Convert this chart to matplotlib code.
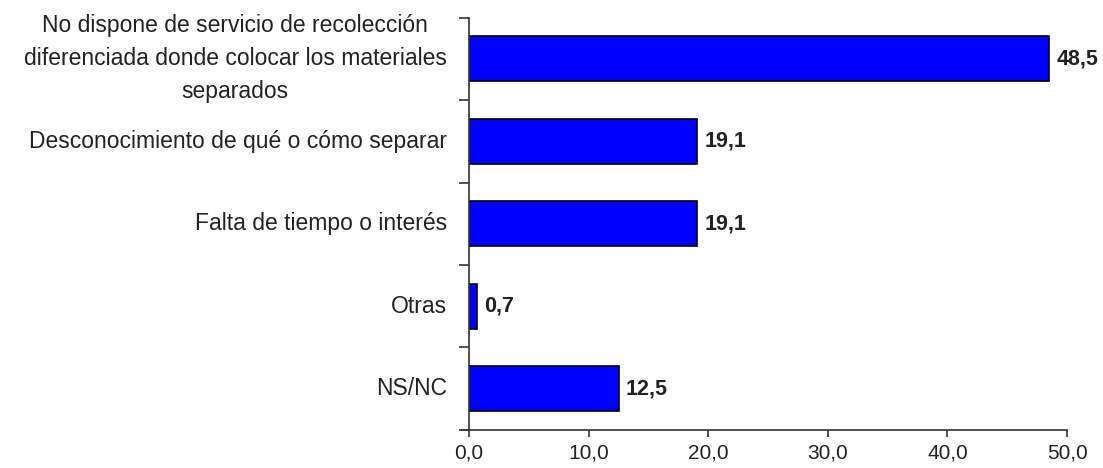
import matplotlib
matplotlib.use("Agg")
import matplotlib.pyplot as plt
import numpy as np

plt.rcParams['font.family'] = ['Liberation Sans', 'DejaVu Sans']

categorias = [
    "No dispone de servicio de recolección\ndiferenciada donde colocar los materiales\nseparados",
    "Desconocimiento de qué o cómo separar",
    "Falta de tiempo o interés",
    "Otras",
    "NS/NC",
]
valores = [48.5, 19.1, 19.1, 0.7, 12.5]

fig = plt.figure(figsize=(11.03, 4.68), dpi=100)
ax = fig.add_axes([0.4252, 0.0812, 0.5422, 0.8814])

y = np.arange(len(categorias))
ax.barh(y, valores, height=0.55, color='#0000ff', edgecolor='black', linewidth=1.2)

for yi, v in zip(y, valores):
    ax.text(v + 0.6, yi, f"{v:.1f}".replace('.', ','), va='center', ha='left',
            fontsize=15.5, fontweight='bold', color='#222222')

ax.set_ylim(len(categorias) - 0.5, -0.5)
ax.set_xlim(0, 50)

ax.set_yticks(y)
ax.set_yticklabels(categorias, fontsize=16.5, multialignment='center', linespacing=1.55,
                   color='#222222', va='center')
ax.tick_params(axis='y', length=0, pad=16)
ax.set_yticks(np.arange(-0.5, len(categorias)), minor=True)
ax.tick_params(axis='y', which='minor', length=7, width=1.2, direction='out',
               color='#333333')

xt = np.arange(0, 51, 10)
ax.set_xticks(xt)
ax.set_xticklabels([f"{v:.1f}".replace('.', ',') for v in xt], fontsize=15,
                   color='#222222')
ax.tick_params(axis='x', length=5, width=1.2, direction='out', pad=5, color='#333333')

for s in ['top', 'right']:
    ax.spines[s].set_visible(False)
ax.spines['left'].set_linewidth(1.2)
ax.spines['bottom'].set_linewidth(1.2)
ax.spines['left'].set_color('#333333')
ax.spines['bottom'].set_color('#333333')
ax.spines['bottom'].set_bounds(-0.6, 50)
ax.spines['bottom'].set_clip_on(False)

fig.savefig("out.png", dpi=100)
